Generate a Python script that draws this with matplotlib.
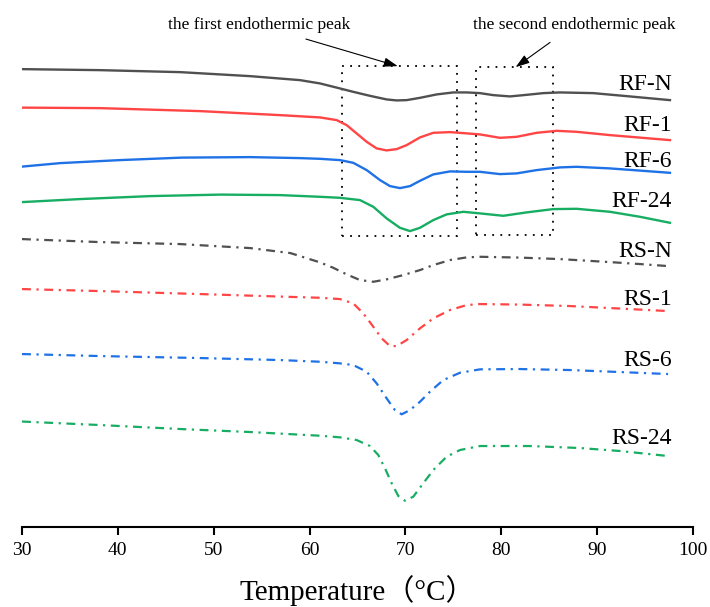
import matplotlib.pyplot as plt
from matplotlib.patches import Rectangle

plt.rcParams['font.family'] = ['Liberation Serif', 'Noto Sans CJK SC', 'DejaVu Serif']

# DSC curves, heat flow in arbitrary units (curves stacked with offsets)
rf_n_t = [30, 38.1, 46.5, 53.8, 59.0, 61.09, 63.17, 64.56, 66.30, 68.04, 69.09, 70.13, 71.52,
          73.26, 74.99, 76.39, 77.78, 79.17, 80.91, 82.65, 84.38, 86.12, 89.60, 93.08, 97.60]
rf_n_hf = [4.58, 4.57, 4.55, 4.51, 4.47, 4.437, 4.387, 4.353, 4.313, 4.277, 4.267, 4.27, 4.293,
           4.327, 4.347, 4.347, 4.34, 4.32, 4.307, 4.323, 4.34, 4.347, 4.34, 4.31, 4.27]

rf_1_t = [30, 38.1, 48.6, 56.9, 61.09, 62.83, 63.87, 64.91, 65.96, 67.00, 68.04, 69.09, 70.13,
          71.52, 72.91, 74.65, 76.04, 77.78, 79.86, 81.61, 83.69, 85.78, 87.86, 91.34, 97.60]
rf_1_hf = [4.195, 4.19, 4.16, 4.12, 4.097, 4.07, 4.02, 3.937, 3.853, 3.787, 3.767, 3.78, 3.82,
           3.897, 3.943, 3.95, 3.94, 3.927, 3.893, 3.903, 3.943, 3.963, 3.953, 3.92, 3.87]

rf_6_t = [30, 34.0, 40.2, 46.7, 53.8, 59.0, 61.09, 63.17, 64.56, 65.96, 67.35, 68.39, 69.43,
          70.48, 71.52, 72.91, 74.65, 76.39, 77.78, 79.86, 81.61, 83.69, 86.12, 87.86, 91.34,
          97.60]
rf_6_hf = [3.605, 3.64, 3.67, 3.695, 3.70, 3.69, 3.683, 3.67, 3.643, 3.57, 3.47, 3.41, 3.39,
           3.41, 3.463, 3.527, 3.557, 3.553, 3.553, 3.53, 3.537, 3.57, 3.597, 3.603, 3.587,
           3.543]

rf_24_t = [30, 36.0, 43.4, 50.7, 56.9, 61.09, 63.17, 65.26, 66.65, 68.04, 69.43, 70.48, 71.52,
           72.91, 74.30, 76.04, 77.78, 80.21, 82.65, 85.42, 87.86, 91.34, 94.47, 97.60]
rf_24_hf = [3.25, 3.28, 3.31, 3.325, 3.32, 3.303, 3.293, 3.27, 3.203, 3.087, 2.993, 2.96, 2.993,
            3.07, 3.127, 3.153, 3.137, 3.113, 3.147, 3.18, 3.183, 3.153, 3.103, 3.043]

rs_n_t = [30, 38.1, 46.5, 53.8, 58.0, 61.09, 62.47, 63.87, 65.26, 66.65, 68.04, 69.78, 71.52,
          72.91, 74.65, 76.39, 77.78, 81.9, 86.1, 91.3, 94.5, 97.4]
rs_n_hf = [2.88, 2.85, 2.83, 2.79, 2.74, 2.647, 2.593, 2.527, 2.47, 2.453, 2.477, 2.52, 2.57,
           2.62, 2.67, 2.697, 2.703, 2.695, 2.68, 2.65, 2.63, 2.61]

rs_1_t = [30, 38.1, 48.6, 56.9, 61.09, 63.17, 64.56, 65.60, 66.65, 67.52, 68.39, 69.09, 70.13,
          71.52, 72.91, 74.65, 76.39, 77.78, 81.9, 87.2, 92.4, 97.4]
rs_1_hf = [2.38, 2.36, 2.33, 2.305, 2.293, 2.28, 2.237, 2.137, 2.003, 1.887, 1.81, 1.81, 1.87,
           1.987, 2.087, 2.17, 2.22, 2.23, 2.225, 2.21, 2.185, 2.16]

rs_6_t = [30, 38.1, 48.6, 56.9, 61.09, 63.17, 64.56, 65.96, 67.00, 68.04, 68.91, 69.61, 70.48,
          71.52, 72.56, 73.95, 75.69, 77.78, 81.9, 87.2, 92.4, 97.4]
rs_6_hf = [1.73, 1.71, 1.69, 1.67, 1.653, 1.637, 1.62, 1.553, 1.437, 1.287, 1.17, 1.127, 1.17,
           1.253, 1.353, 1.47, 1.543, 1.577, 1.58, 1.57, 1.55, 1.53]

rs_24_t = [30, 38.1, 46.5, 53.8, 61.09, 63.17, 64.91, 66.30, 67.17, 67.87, 68.57, 69.26, 69.95,
           70.82, 71.86, 72.91, 74.30, 75.69, 77.78, 83.0, 88.2, 92.4, 97.4]
rs_24_hf = [1.055, 1.02, 0.98, 0.95, 0.913, 0.897, 0.87, 0.81, 0.72, 0.587, 0.437, 0.31, 0.263,
            0.303, 0.437, 0.57, 0.703, 0.77, 0.81, 0.81, 0.79, 0.76, 0.71]

labels = ['RF-N', 'RF-1', 'RF-6', 'RF-24', 'RS-N', 'RS-1', 'RS-6', 'RS-24']
label_y = [4.37, 3.965, 3.605, 3.205, 2.70, 2.22, 1.61, 0.83]

gray, red, blue, green = '#505050', '#ff4545', '#1f72e6', '#17ad62'

fig = plt.figure(figsize=(7.1, 6.07), dpi=100)
ax = fig.add_axes([0.031, 0.1318, 0.945, 0.835])

solid = [(rf_n_t, rf_n_hf, gray), (rf_1_t, rf_1_hf, red),
         (rf_6_t, rf_6_hf, blue), (rf_24_t, rf_24_hf, green)]
dashdot = [(rs_n_t, rs_n_hf, gray), (rs_1_t, rs_1_hf, red),
           (rs_6_t, rs_6_hf, blue), (rs_24_t, rs_24_hf, green)]

for t, hf, c in solid:
    ax.plot(t, hf, color=c, lw=1.7, solid_joinstyle='round')
for t, hf, c in dashdot:
    ax.plot(t, hf, color=c, lw=1.6, linestyle=(0, (4, 2.5, 1, 2.5)),
            dash_joinstyle='round')

for name, y in zip(labels, label_y):
    ax.text(97.8, y, name, ha='right', va='baseline', fontsize=17)

# dotted boxes around the two endothermic peaks
ax.add_patch(Rectangle((63.35, 2.91), 12.0, 1.70, fill=False, ec='black',
                       lw=1.3, ls=(0, (1, 3.5))))
ax.add_patch(Rectangle((77.33, 2.92), 8.03, 1.68, fill=False, ec='black',
                       lw=1.3, ls=(0, (1, 3.5))))

arrow = dict(arrowstyle='-|>,head_length=0.6,head_width=0.2', color='black', lw=0.8,
             mutation_scale=14, shrinkA=8, shrinkB=0)
ax.annotate('the first endothermic peak', xy=(69.2, 4.61), xytext=(54.7, 5.02),
            ha='center', va='center', fontsize=12.5, arrowprops=arrow)
ax.annotate('the second endothermic peak', xy=(81.5, 4.60), xytext=(87.6, 5.02),
            ha='center', va='center', fontsize=12.5, arrowprops=arrow)

ax.set_xlim(30, 100)
ax.set_ylim(0, 5.07)
ax.set_xticks(range(30, 101, 10))
ax.set_yticks([])
for s in ['left', 'right', 'top']:
    ax.spines[s].set_visible(False)
ax.spines['bottom'].set_linewidth(1.5)
ax.tick_params(axis='x', direction='out', length=6, width=1.5, labelsize=14, pad=5)
ax.set_xlabel('Temperature（°C）', fontsize=21, labelpad=11)

fig.savefig('out.png', dpi=100)
